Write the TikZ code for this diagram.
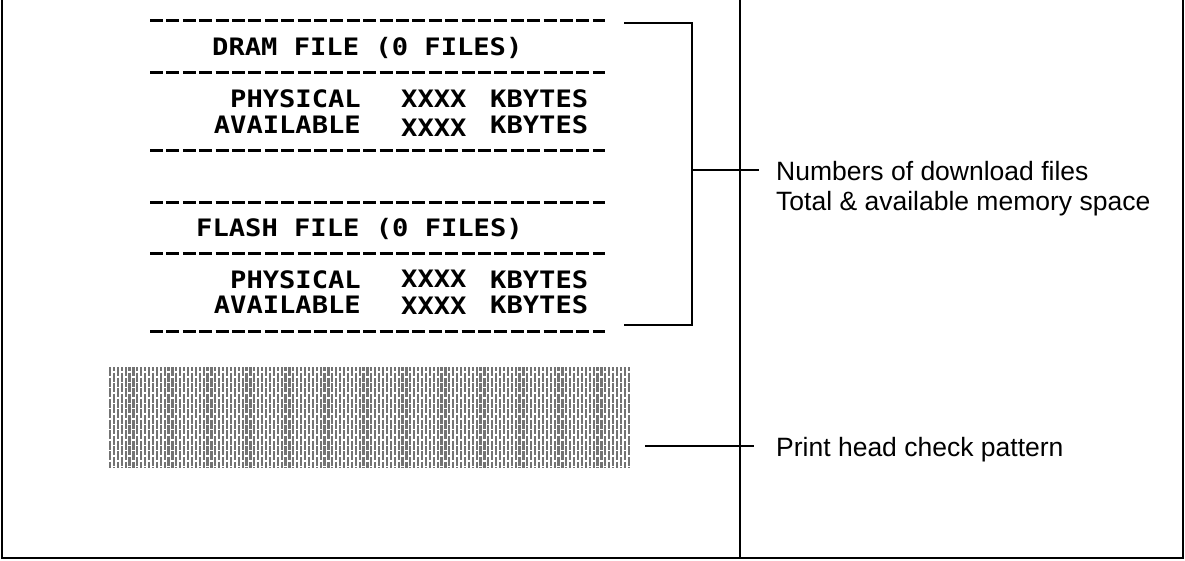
\documentclass[tikz,border=0pt]{standalone}
\usepackage{fontspec}
\setmainfont{Liberation Sans}
\newfontfamily\printfont[FakeStretch=1.13]{DejaVu Sans Mono}

\tikzset{
  mono/.style={font=\fontsize{24}{28}\printfont\bfseries, inner sep=0pt},
  note/.style={font=\fontsize{26.5}{30}\selectfont, inner sep=0pt, anchor=base west},
  cutline/.style={line width=3pt, dash pattern=on 13pt off 3.4pt},
  frame/.style={line width=2pt},
  lead/.style={line width=1.5pt},
  stripe/.style={line width=2.2pt, draw=black!55, dash pattern=on 9pt off 1.5pt}
}

\begin{document}
\begin{tikzpicture}[x=1pt,y=-1pt]
  \useasboundingbox (0,0) rectangle (1185,560);

  % frame
  \draw[frame] (2,0) -- (2,558) -- (1183,558) -- (1183,0);
  \draw[frame] (740,0) -- (740,558);

  % printout
  \foreach \y in {20,72,150,202,253,331}
    \draw[cutline] (150,\y) -- (605,\y);

  \begin{scope}[every node/.style={mono}]
    \node[anchor=base west] (dram) at (212,55) {DRAM FILE (0 FILES)};
    \node[anchor=base east] (dphys) at (361,107) {PHYSICAL};
    \node[anchor=base east] (davail) at (361,133) {AVAILABLE};
    \node[anchor=base west] (dsize1) at (401,107) {XXXX};
    \node[anchor=base west] (dsize2) at (401,136) {XXXX};
    \node[anchor=base west] (dunit1) at (490,107) {KBYTES};
    \node[anchor=base west] (dunit2) at (490,133) {KBYTES};

    \node[anchor=base west] (flash) at (196,236) {FLASH FILE (0 FILES)};
    \node[anchor=base east] (fphys) at (361,288) {PHYSICAL};
    \node[anchor=base east] (favail) at (361,313) {AVAILABLE};
    \node[anchor=base west] (fsize1) at (401,287) {XXXX};
    \node[anchor=base west] (fsize2) at (401,314) {XXXX};
    \node[anchor=base west] (funit1) at (490,288) {KBYTES};
    \node[anchor=base west] (funit2) at (490,313) {KBYTES};
  \end{scope}

  % head check pattern
  \foreach \i in {0,...,133} {
    \pgfmathsetmacro\px{110+3.9*\i}
    \pgfmathsetmacro\ph{mod(\i,2)*5}
    \draw[stripe, dash phase=\ph pt] (\px,367) -- (\px,468);
  }
  \node[minimum width=523pt, minimum height=101pt, inner sep=0pt] (pattern) at (371.5,417.5) {};

  % bracket and notes
  \coordinate (btop) at (624,23);
  \coordinate (bbot) at (624,325);
  \coordinate (bmid) at (692,170);
  \coordinate (bend) at (759,170);
  \draw[lead] (btop) -- (692,23) -- (692,325) -- (bbot);
  \draw[lead] (bmid) -- (bend);

  \node[note] (files) at (776,180) {Numbers of download files};
  \node[note] (memory) at (776,210) {Total \& available memory space};

  \coordinate (pstart) at (645,446);
  \coordinate (pend) at (754,446);
  \draw[lead] (pstart) -- (pend);
  \node[note] (head) at (776,456) {Print head check pattern};
\end{tikzpicture}
\end{document}
